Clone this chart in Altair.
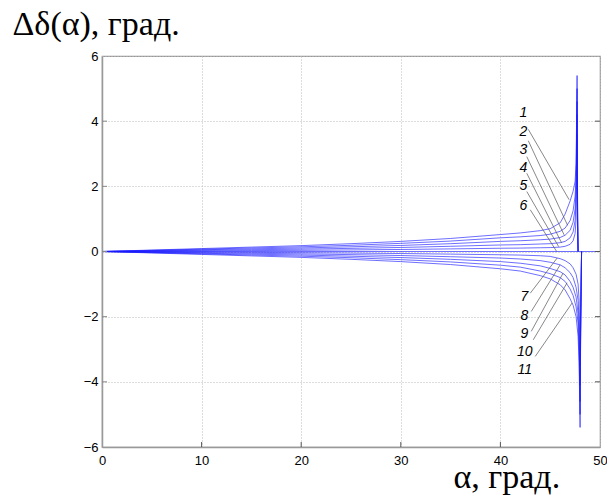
import altair as alt
import pandas as pd

# ---- data ----
alpha_up = [0, 5, 10, 15, 20, 25, 30, 35, 40, 42, 44, 45, 46, 46.5, 47, 47.3, 47.5, 47.6, 47.7, 47.75, 47.8]
curve1 = [0, 0.045, 0.09, 0.135, 0.18, 0.24, 0.31, 0.40, 0.52, 0.57, 0.64, 0.70, 0.88, 1.15, 1.55, 1.85, 2.15, 2.7, 5.4, 1.5, 0]
curve2 = [0, 0.036, 0.072, 0.108, 0.144, 0.19, 0.25, 0.32, 0.42, 0.45, 0.49, 0.53, 0.62, 0.72, 0.95, 1.25, 1.7, 2.3, 5.0, 1.2, 0]
curve3 = [0, 0.027, 0.054, 0.081, 0.108, 0.144, 0.186, 0.24, 0.31, 0.33, 0.36, 0.38, 0.43, 0.50, 0.65, 0.9, 1.3, 1.9, 4.6, 1.0, 0]
curve4 = [0, 0.018, 0.036, 0.054, 0.072, 0.096, 0.124, 0.16, 0.20, 0.21, 0.23, 0.24, 0.27, 0.31, 0.42, 0.6, 0.95, 1.5, 4.2, 0.8, 0]
curve5 = [0, 0.009, 0.018, 0.027, 0.036, 0.048, 0.062, 0.08, 0.10, 0.105, 0.115, 0.12, 0.135, 0.16, 0.22, 0.33, 0.55, 1.0, 3.6, 0.5, 0]

alpha_zero = [0, 50]
curve6 = [0, 0]

alpha_dn = [0, 5, 10, 15, 20, 25, 30, 35, 40, 42, 44, 45, 46, 46.5, 47, 47.3, 47.6, 47.8, 47.9, 48.0, 48.05, 48.15]
curve7 = [0, -0.009, -0.018, -0.027, -0.036, -0.048, -0.062, -0.08, -0.10, -0.11, -0.13, -0.15, -0.22, -0.28, -0.38, -0.5, -0.7, -1.0, -1.5, -3.5, -1.8, 0]
curve8 = [0, -0.018, -0.036, -0.054, -0.072, -0.096, -0.124, -0.16, -0.20, -0.23, -0.28, -0.33, -0.41, -0.50, -0.65, -0.8, -1.1, -1.5, -2.1, -4.1, -2.2, 0]
curve9 = [0, -0.027, -0.054, -0.081, -0.108, -0.144, -0.186, -0.24, -0.31, -0.36, -0.44, -0.52, -0.62, -0.72, -0.92, -1.1, -1.4, -1.9, -2.6, -4.6, -2.5, 0]
curve10 = [0, -0.036, -0.072, -0.108, -0.144, -0.19, -0.25, -0.32, -0.42, -0.48, -0.60, -0.68, -0.80, -0.92, -1.15, -1.35, -1.7, -2.2, -3.0, -5.0, -2.8, 0]
curve11 = [0, -0.045, -0.09, -0.135, -0.18, -0.24, -0.31, -0.40, -0.53, -0.60, -0.74, -0.84, -1.02, -1.18, -1.45, -1.65, -2.0, -2.6, -3.4, -5.4, -3.0, 0]

label_text = ["1", "2", "3", "4", "5", "6", "7", "8", "9", "10", "11"]
label_alpha = [42.3, 42.3, 42.3, 42.3, 42.3, 42.3, 42.4, 42.4, 42.4, 42.45, 42.45]
label_value = [4.25, 3.66, 3.1, 2.56, 2.0, 1.41, -1.40, -1.97, -2.52, -3.09, -3.63]

lead_a1 = [42.8, 42.8, 42.65, 42.65, 42.65, 43.0, 43.0, 43.1, 43.1, 43.3, 43.5]
lead_v1 = [3.75, 3.4, 2.91, 2.4, 1.84, 1.28, -1.28, -1.84, -2.45, -2.71, -3.22]
lead_a2 = [46.9, 46.75, 46.4, 46.15, 45.85, 45.65, 45.7, 46.0, 46.3, 46.7, 47.2]
lead_v2 = [1.59, 0.8, 0.51, 0.26, 0.15, 0.0, -0.2, -0.41, -0.66, -0.96, -1.58]

x_ticks = [0, 10, 20, 30, 40, 50]
y_ticks = [-6, -4, -2, 0, 2, 4, 6]

# ---- tables ----
rows = []
series = [(alpha_up, curve1), (alpha_up, curve2), (alpha_up, curve3), (alpha_up, curve4),
          (alpha_up, curve5), (alpha_zero, curve6), (alpha_dn, curve7), (alpha_dn, curve8),
          (alpha_dn, curve9), (alpha_dn, curve10), (alpha_dn, curve11)]
for k, (xs, ys) in enumerate(series):
    for i, (a, v) in enumerate(zip(xs, ys)):
        rows.append({"curve": label_text[k], "i": i, "a": a, "v": v})
df = pd.DataFrame(rows)

labels = pd.DataFrame({"t": label_text, "a": label_alpha, "v": label_value})
leaders = pd.DataFrame({"a1": lead_a1, "v1": lead_v1, "a2": lead_a2, "v2": lead_v2})
xt = pd.DataFrame({"a": x_ticks[1:-1]})
yt = pd.DataFrame({"v": y_ticks[1:-1]})

W, H = 498, 391
xs_ = alt.Scale(domain=[0, 50], nice=False)
ys_ = alt.Scale(domain=[-6, 6], nice=False)

x_axis = alt.Axis(values=x_ticks, grid=True, labelFlush=False, title="α, град.",
                  titleX=351, titleY=40, titleAlign="left", titleBaseline="alphabetic", titleAngle=0)
y_axis = alt.Axis(values=y_ticks, grid=True, labelFlush=False, title="Δδ(α), град.",
                  titleX=-90, titleY=-22, titleAlign="left", titleBaseline="alphabetic", titleAngle=0)

lines = alt.Chart(df).mark_line(color="#1a1aff", strokeWidth=0.8, opacity=0.8, clip=True).encode(
    x=alt.X("a:Q", scale=xs_, axis=x_axis),
    y=alt.Y("v:Q", scale=ys_, axis=y_axis),
    detail="curve:N",
    order="i:Q",
)

lead = alt.Chart(leaders).mark_rule(color="#555555", strokeWidth=0.7).encode(
    x=alt.X("a1:Q", scale=xs_), y=alt.Y("v1:Q", scale=ys_),
    x2="a2:Q", y2="v2:Q",
)

txt = alt.Chart(labels).mark_text(font="Liberation Sans", fontSize=14, fontStyle="italic",
                                  color="black", align="center", baseline="middle").encode(
    x=alt.X("a:Q", scale=xs_), y=alt.Y("v:Q", scale=ys_), text="t:N",
)

xtick_b = alt.Chart(xt).mark_rule(color="#555555", strokeWidth=1).encode(
    x=alt.X("a:Q", scale=xs_), y=alt.value(H), y2=alt.value(H - 5))
ytick_r = alt.Chart(yt).mark_rule(color="#555555", strokeWidth=1).encode(
    y=alt.Y("v:Q", scale=ys_), x=alt.value(W), x2=alt.value(W - 5))
ytick_l = alt.Chart(yt).mark_rule(color="#888888", strokeWidth=1).encode(
    y=alt.Y("v:Q", scale=ys_), x=alt.value(0), x2=alt.value(5))

chart = alt.layer(lines, lead, txt, xtick_b, ytick_r, ytick_l).properties(
    width=W, height=H,
    autosize=alt.AutoSizeParams(type="none"),
    padding={"left": 94, "top": 48, "right": 7, "bottom": 48},
).configure_view(stroke="#999999", strokeWidth=1.2).configure_axis(
    domainColor="#999999", domainWidth=1.5, tickSize=0,
    gridColor="#bbbbbb", gridDash=[1, 2], gridWidth=1,
    labelFont="Liberation Sans", labelFontSize=13, labelColor="black",
    titleFont="Liberation Serif", titleFontSize=34, titleFontWeight="normal", titleColor="black",
).configure_axisX(labelPadding=7).configure_axisY(labelPadding=4)

chart.save("out.html", embed_options={"renderer": "svg", "actions": False})
